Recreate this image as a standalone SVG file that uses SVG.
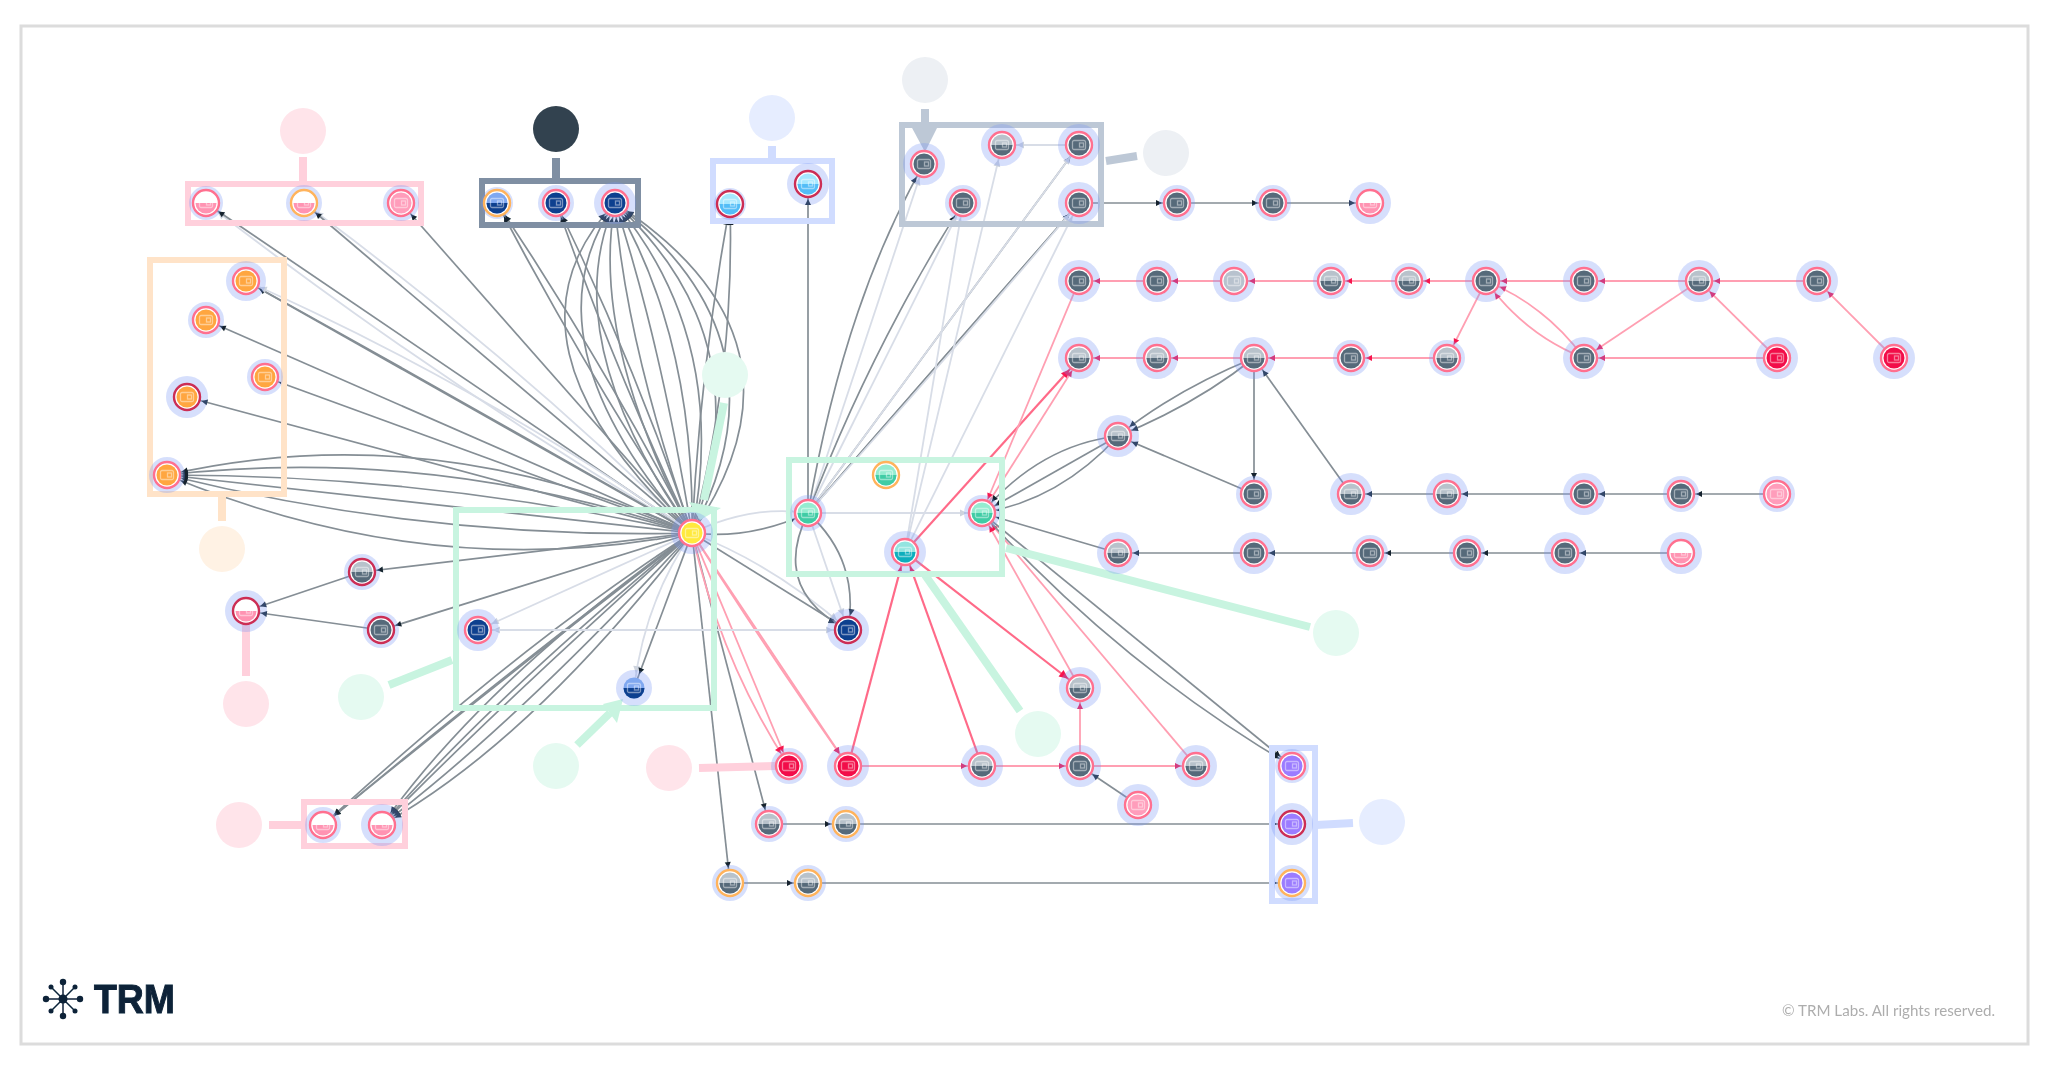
<svg xmlns="http://www.w3.org/2000/svg" width="2048" height="1072" viewBox="0 0 2048 1072">
<style>
.d{fill:none;stroke:#858e95;stroke-width:1.700;marker-end:url(#ad)}
.l{fill:none;stroke:#d8dde7;stroke-width:1.800;marker-end:url(#al)}
.p{fill:none;stroke:#ff9fb2;stroke-width:1.800;marker-end:url(#ap)}
.s{fill:none;stroke:#ff6a88;stroke-width:2.200;marker-end:url(#as)}
.h{fill:#7896f5;fill-opacity:.3}
.rp,.rd,.ro{fill:#fff;stroke-width:2.400}
.rp{stroke:#ff6f8f}.rd{stroke:#cc2f55}.ro{stroke:#ffb35c}
.w{fill:none;stroke:#fff;stroke-opacity:.45;stroke-width:1.300}
.b{fill:none;stroke-width:6}
.st{fill:none;stroke-width:8}
.fp{fill:#ffe4ea}.fk{fill:#33434f}.fb{fill:#e6edff}.fg{fill:#edf0f4}.fm{fill:#e5faf1}.fo{fill:#fff2e4}
.cp{stroke:#ffd0dc}.ck{stroke:#7f8fa3}.cb{stroke:#d0dcff}.cg{stroke:#bdc8d6}.cm{stroke:#c8f4e0}.co{stroke:#ffe3c8}
text{font-family:"Liberation Sans",Arial,sans-serif}
</style>
<defs>
<filter id="soft" x="0" y="0" width="100%" height="100%"><feGaussianBlur stdDeviation="0.55"/></filter>
<marker id="ad" markerUnits="userSpaceOnUse" markerWidth="36" markerHeight="16" viewBox="0 0 36 16" refX="32" refY="8" orient="auto"><path d="M11 5L17 8L11 11Z" fill="#14242f"/></marker>
<marker id="al" markerUnits="userSpaceOnUse" markerWidth="36" markerHeight="16" viewBox="0 0 36 16" refX="32" refY="8" orient="auto"><path d="M10 4.500L17 8L10 11.500Z" fill="#cdd3de"/></marker>
<marker id="ap" markerUnits="userSpaceOnUse" markerWidth="36" markerHeight="16" viewBox="0 0 36 16" refX="32" refY="8" orient="auto"><path d="M11 5L17 8L11 11Z" fill="#f7174f"/></marker>
<marker id="as" markerUnits="userSpaceOnUse" markerWidth="36" markerHeight="18" viewBox="0 0 36 18" refX="32" refY="9" orient="auto"><path d="M8 5L17 9L8 13Z" fill="#f7174f"/></marker>
<g id="wal"><rect class="w" x="-6.500" y="-4.500" width="13" height="9" rx="1.500"/><rect class="w" x="0.500" y="-2" width="4" height="4"/></g>
<g id="c-gray"><circle r="10.500" fill="#566a7a"/><use href="#wal"/></g>
<g id="c-grayhalf"><circle r="10.500" fill="#b8c2cb"/><path d="M-10.500 0A10.500 10.500 0 0 0 10.500 0Z" fill="#566a7a"/><use href="#wal"/></g>
<g id="c-graylight"><circle r="10.500" fill="#b8c2ce"/><use href="#wal"/></g>
<g id="c-pinkhalf"><circle r="10.500" fill="#fff"/><path d="M-10.500 0A10.500 10.500 0 0 0 10.500 0Z" fill="#ff93b2"/><use href="#wal"/></g>
<g id="c-pink"><circle r="10.500" fill="#ff9dbb"/><use href="#wal"/></g>
<g id="c-orange"><circle r="10.500" fill="#ffa63f"/><use href="#wal"/></g>
<g id="c-navy"><circle r="10.500" fill="#10408f"/><use href="#wal"/></g>
<g id="c-navyhalf"><circle r="10.500" fill="#80a8f0"/><path d="M-10.500 0A10.500 10.500 0 0 0 10.500 0Z" fill="#10408f"/><use href="#wal"/></g>
<g id="c-sky"><circle r="10.500" fill="#a6e8ff"/><path d="M-10.500 0A10.500 10.500 0 0 0 10.500 0Z" fill="#52bdf7"/><use href="#wal"/></g>
<g id="c-teal"><circle r="10.500" fill="#95ecd0"/><path d="M-10.500 0A10.500 10.500 0 0 0 10.500 0Z" fill="#40cca5"/><use href="#wal"/></g>
<g id="c-aqua"><circle r="10.500" fill="#93e4e0"/><path d="M-10.500 0A10.500 10.500 0 0 0 10.500 0Z" fill="#10aebd"/><use href="#wal"/></g>
<g id="c-yellow"><circle r="10.500" fill="#ffe93d"/><use href="#wal"/></g>
<g id="c-red"><circle r="10.500" fill="#f20f48"/><use href="#wal"/></g>
<g id="c-purple"><circle r="10.500" fill="#9b7cff"/><use href="#wal"/></g>
</defs>
<rect width="2048" height="1072" fill="#fff"/>
<rect x="21" y="26" width="2007" height="1018" fill="#fff" stroke="#dcdcdc" stroke-width="3"/>
<g filter="url(#soft)">
<g id="connectors">
<path class="l" d="M692 533Q439 383 206 203"/><path class="d" d="M692 533L206 203"/>
<path class="l" d="M692 533Q510 355 304 203"/><path class="d" d="M692 533L304 203"/>
<path class="d" d="M692 533L401 203"/>
<path class="d" d="M692 533Q585 370 497 203"/><path class="d" d="M692 533Q605 365 497 203"/>
<path class="d" d="M692 533Q615 370 556 203"/><path class="d" d="M692 533Q635 365 556 203"/>
<path class="d" d="M692 533Q485 340 615 203"/><path class="d" d="M692 533Q520 340 615 203"/><path class="d" d="M692 533Q555 340 615 203"/><path class="d" d="M692 533Q590 340 615 203"/><path class="d" d="M692 533Q625 340 615 203"/><path class="d" d="M692 533Q660 340 615 203"/><path class="d" d="M692 533Q695 340 615 203"/><path class="d" d="M692 533Q730 340 615 203"/><path class="d" d="M692 533Q765 340 615 203"/><path class="d" d="M692 533Q795 340 615 203"/><path class="d" d="M692 533Q825 340 615 203"/>
<path class="d" d="M692 533Q700 370 730 204"/><path class="d" d="M692 533Q735 370 730 204"/>
<path class="d" d="M692 533L246 281"/><path class="d" d="M692 533Q470 405 246 281"/><path class="l" d="M692 533Q480 385 246 281"/>
<path class="d" d="M692 533L206 320"/><path class="d" d="M692 533L265 377"/><path class="d" d="M692 533L187 397"/>
<path class="d" d="M692 533Q430 415 167 475"/><path class="d" d="M692 533Q430 445 167 475"/><path class="d" d="M692 533Q430 475 167 475"/><path class="d" d="M692 533Q430 505 167 475"/><path class="d" d="M692 533Q430 540 167 475"/><path class="d" d="M692 533Q430 585 167 475"/>
<path class="d" d="M692 533L362 572"/><path class="d" d="M692 533L381 630"/><path class="l" d="M692 533L478 630"/>
<path class="l" d="M692 533Q645 600 634 688"/><path class="d" d="M692 533L634 688"/>
<path class="d" d="M692 533Q525 640 323 825"/><path class="d" d="M692 533Q515 665 323 825"/><path class="d" d="M692 533Q500 680 323 825"/>
<path class="d" d="M692 533Q533 740 382 825"/><path class="d" d="M692 533Q520 720 382 825"/><path class="d" d="M692 533Q505 700 382 825"/><path class="d" d="M692 533Q490 700 382 825"/><path class="d" d="M692 533Q485 680 382 825"/>
<path class="d" d="M692 533L769 824"/><path class="d" d="M692 533L730 883"/>
<path class="p" d="M692 533Q720 660 789 766"/><path class="p" d="M692 533L789 766"/><path class="p" d="M692 533L848 766"/><path class="p" d="M692 533Q770 655 848 766"/>
<path class="l" d="M692 533Q750 505 808 513"/><path class="d" d="M692 533Q750 540 808 513"/>
<path class="d" d="M692 533L848 630"/><path class="l" d="M692 533Q775 565 848 630"/>
<path class="d" d="M808 513Q770 590 848 630"/><path class="l" d="M808 513L848 630"/><path class="d" d="M808 513Q860 560 848 630"/>
<path class="l" d="M848 630L478 630"/><path class="l" d="M478 630L848 630"/>
<path class="l" d="M808 513L982 513"/>
<path class="d" d="M808 513L808 184"/>
<path class="d" d="M808 513Q845 300 924 164"/><path class="l" d="M808 513L924 164"/>
<path class="d" d="M808 513Q870 350 963 203"/><path class="l" d="M808 513L963 203"/>
<path class="d" d="M808 513L1079 145"/><path class="l" d="M808 513L1079 145"/>
<path class="d" d="M808 513Q920 385 1079 203"/><path class="d" d="M808 513L1079 203"/><path class="l" d="M808 513Q950 355 1079 203"/>
<path class="l" d="M905 552L1002 145"/><path class="l" d="M905 552L963 203"/><path class="l" d="M905 552L1079 203"/>
<path class="l" d="M1079 145L1002 145"/>
<path class="s" d="M905 552L1080 358"/><path class="p" d="M982 513L1080 358"/>
<path class="p" d="M1079 281L982 513"/>
<path class="s" d="M848 766L905 552"/><path class="s" d="M982 766L905 552"/><path class="s" d="M905 552L1080 688"/>
<path class="p" d="M1080 688L982 513"/><path class="p" d="M1196 766L982 513"/>
<path class="p" d="M1080 766L1080 688"/>
<path class="p" d="M848 766L982 766"/><path class="p" d="M982 766L1080 766"/><path class="p" d="M1080 766L1196 766"/>
<path class="d" d="M1138 805L1080 766"/>
<path class="d" d="M1118 436Q1040 445 982 513"/><path class="d" d="M1118 436L982 513"/><path class="d" d="M1118 436Q1060 500 982 513"/>
<path class="d" d="M1118 553L982 513"/>
<path class="d" d="M982 513L1292 766"/><path class="d" d="M982 513Q1120 665 1292 766"/>
<path class="d" d="M1254 358Q1175 390 1118 436"/><path class="d" d="M1254 358Q1195 405 1118 436"/>
<path class="d" d="M1254 494L1118 436"/><path class="d" d="M1254 358L1254 494"/><path class="d" d="M1351 494L1254 358"/>
<path class="d" d="M1079 203L1177 203"/><path class="d" d="M1177 203L1273 203"/><path class="d" d="M1273 203L1370 203"/>
<path class="p" d="M1157 281L1079 281"/><path class="p" d="M1234 281L1157 281"/><path class="p" d="M1331 281L1234 281"/><path class="p" d="M1409 281L1331 281"/><path class="p" d="M1486 281L1409 281"/><path class="p" d="M1584 281L1486 281"/><path class="p" d="M1699 281L1584 281"/><path class="p" d="M1817 281L1699 281"/>
<path class="p" d="M1157 358L1079 358"/><path class="p" d="M1254 358L1157 358"/><path class="p" d="M1351 358L1254 358"/><path class="p" d="M1447 358L1351 358"/>
<path class="p" d="M1486 281L1447 358"/><path class="p" d="M1584 358Q1525 335 1486 281"/><path class="p" d="M1584 358Q1545 305 1486 281"/>
<path class="p" d="M1699 281L1584 358"/><path class="p" d="M1777 358L1584 358"/><path class="p" d="M1777 358L1699 281"/><path class="p" d="M1894 358L1817 281"/>
<path class="d" d="M1447 494L1351 494"/><path class="d" d="M1584 494L1447 494"/><path class="d" d="M1681 494L1584 494"/><path class="d" d="M1777 494L1681 494"/>
<path class="d" d="M1254 553L1118 553"/><path class="d" d="M1370 553L1254 553"/><path class="d" d="M1467 553L1370 553"/><path class="d" d="M1565 553L1467 553"/><path class="d" d="M1681 553L1565 553"/>
<path class="d" d="M362 572L246 611"/><path class="d" d="M381 630L246 611"/>
<path class="d" d="M769 824L846 824"/><path class="d" d="M846 824L1292 824"/>
<path class="d" d="M730 883L808 883"/><path class="d" d="M808 883L1292 883"/>
</g>
<g id="groups">
<g id="g-pink-top"><path class="st cp" d="M303 157V182"/><rect class="b cp" x="188" y="184" width="233" height="39"/><circle class="fp" cx="303" cy="131" r="23"/></g>
<g id="g-dark"><path class="st ck" d="M556 158V178"/><rect class="b ck" x="482" y="181" width="156" height="44"/><circle class="fk" cx="556" cy="129" r="23"/></g>
<g id="g-blue"><path class="st cb" d="M772 146V160"/><rect class="b cb" x="713" y="161" width="119" height="60"/><circle class="fb" cx="772" cy="118" r="23"/></g>
<g id="g-gray"><path class="st cg" d="M925 109V130"/><path d="M911 126H938L925 152Z" fill="#bdc8d6"/><path class="st cg" d="M1106 161L1137 156"/><rect class="b cg" x="902" y="125" width="199" height="99"/><circle class="fg" cx="925" cy="80" r="23"/><circle class="fg" cx="1166" cy="153" r="23"/></g>
<g id="g-orange"><path class="st co" d="M222 497V521"/><rect class="b co" x="150" y="260" width="134" height="234"/><circle class="fo" cx="222" cy="549" r="23"/></g>
<g id="g-green-left"><path class="st cm" d="M389 685L452 660"/><rect class="b cm" x="456" y="510" width="258" height="198"/><circle class="fm" cx="361" cy="697" r="23"/></g>
<g id="g-green-mid"><path class="st cm" d="M724 403L704 500"/><path d="M689 502L721 508L700 520Z" fill="#c8f4e0"/><circle class="fm" cx="725" cy="375" r="23"/></g>
<g id="g-green-arrow"><path class="st cm" d="M577 745L610 713"/><path d="M623 699L617 723L603 704Z" fill="#c8f4e0"/><circle class="fm" cx="556" cy="766" r="23"/></g>
<g id="g-green-right"><path class="st cm" d="M925 575L1020 711"/><path class="st cm" d="M1006 548L1310 627"/><rect class="b cm" x="789" y="460" width="213" height="114"/><circle class="fm" cx="1038" cy="734" r="23"/><circle class="fm" cx="1336" cy="633" r="23"/></g>
<g id="g-pink-left"><path class="st cp" d="M246 625V676"/><circle class="fp" cx="246" cy="704" r="23"/></g>
<g id="g-pink-mid"><path class="st cp" d="M699 768L775 766"/><circle class="fp" cx="669" cy="768" r="23"/></g>
<g id="g-pink-bottom"><path class="st cp" d="M269 825H301"/><rect class="b cp" x="304" y="802" width="101" height="44"/><circle class="fp" cx="239" cy="825" r="23"/></g>
<g id="g-purple"><path class="st cb" d="M1316 825L1353 823"/><rect class="b cb" x="1272" y="748" width="43" height="153"/><circle class="fb" cx="1382" cy="822" r="23"/></g>
</g>
<g id="nodes">
<g id="n1" transform="translate(206 203)"><circle class="h" r="17"/><circle class="rp" r="13"/><use href="#c-pinkhalf"/></g>
<g id="n2" transform="translate(304 203)"><circle class="h" r="18"/><circle class="ro" r="13"/><use href="#c-pinkhalf"/></g>
<g id="n3" transform="translate(401 203)"><circle class="h" r="18"/><circle class="rp" r="13"/><use href="#c-pink"/></g>
<g id="n4" transform="translate(497 203)"><circle class="h" r="16"/><circle class="ro" r="13"/><use href="#c-navyhalf"/></g>
<g id="n5" transform="translate(556 203)"><circle class="h" r="18"/><circle class="rp" r="13"/><use href="#c-navy"/></g>
<g id="n6" transform="translate(615 203)"><circle class="h" r="21"/><circle class="rp" r="13"/><use href="#c-navy"/></g>
<g id="n7" transform="translate(730 204)"><circle class="h" r="16"/><circle class="rd" r="13"/><use href="#c-sky"/></g>
<g id="n8" transform="translate(808 184)"><circle class="h" r="21"/><circle class="rd" r="13"/><use href="#c-sky"/></g>
<g id="n9" transform="translate(924 164)"><circle class="h" r="21"/><circle class="rp" r="13"/><use href="#c-gray"/></g>
<g id="n10" transform="translate(1002 145)"><circle class="h" r="21"/><circle class="rp" r="13"/><use href="#c-grayhalf"/></g>
<g id="n11" transform="translate(1079 145)"><circle class="h" r="21"/><circle class="rp" r="13"/><use href="#c-gray"/></g>
<g id="n12" transform="translate(963 203)"><circle class="h" r="18"/><circle class="rp" r="13"/><use href="#c-gray"/></g>
<g id="n13" transform="translate(1079 203)"><circle class="h" r="21"/><circle class="rp" r="13"/><use href="#c-gray"/></g>
<g id="n14" transform="translate(1177 203)"><circle class="h" r="18"/><circle class="rp" r="13"/><use href="#c-gray"/></g>
<g id="n15" transform="translate(1273 203)"><circle class="h" r="18"/><circle class="rp" r="13"/><use href="#c-gray"/></g>
<g id="n16" transform="translate(1370 203)"><circle class="h" r="21"/><circle class="rp" r="13"/><use href="#c-pinkhalf"/></g>
<g id="n17" transform="translate(1079 281)"><circle class="h" r="21"/><circle class="rp" r="13"/><use href="#c-gray"/></g>
<g id="n18" transform="translate(1157 281)"><circle class="h" r="21"/><circle class="rp" r="13"/><use href="#c-gray"/></g>
<g id="n19" transform="translate(1234 281)"><circle class="h" r="21"/><circle class="rp" r="13"/><use href="#c-graylight"/></g>
<g id="n20" transform="translate(1331 281)"><circle class="h" r="18"/><circle class="rp" r="13"/><use href="#c-grayhalf"/></g>
<g id="n21" transform="translate(1409 281)"><circle class="h" r="18"/><circle class="rp" r="13"/><use href="#c-grayhalf"/></g>
<g id="n22" transform="translate(1486 281)"><circle class="h" r="21"/><circle class="rp" r="13"/><use href="#c-gray"/></g>
<g id="n23" transform="translate(1584 281)"><circle class="h" r="21"/><circle class="rp" r="13"/><use href="#c-gray"/></g>
<g id="n24" transform="translate(1699 281)"><circle class="h" r="21"/><circle class="rp" r="13"/><use href="#c-grayhalf"/></g>
<g id="n25" transform="translate(1817 281)"><circle class="h" r="21"/><circle class="rp" r="13"/><use href="#c-gray"/></g>
<g id="n26" transform="translate(1079 358)"><circle class="h" r="21"/><circle class="rp" r="13"/><use href="#c-grayhalf"/></g>
<g id="n27" transform="translate(1157 358)"><circle class="h" r="21"/><circle class="rp" r="13"/><use href="#c-grayhalf"/></g>
<g id="n28" transform="translate(1254 358)"><circle class="h" r="21"/><circle class="rp" r="13"/><use href="#c-grayhalf"/></g>
<g id="n29" transform="translate(1351 358)"><circle class="h" r="18"/><circle class="rp" r="13"/><use href="#c-gray"/></g>
<g id="n30" transform="translate(1447 358)"><circle class="h" r="18"/><circle class="rp" r="13"/><use href="#c-grayhalf"/></g>
<g id="n31" transform="translate(1584 358)"><circle class="h" r="21"/><circle class="rp" r="13"/><use href="#c-gray"/></g>
<g id="n32" transform="translate(1777 358)"><circle class="h" r="21"/><circle class="rp" r="13"/><use href="#c-red"/></g>
<g id="n33" transform="translate(1894 358)"><circle class="h" r="21"/><circle class="rp" r="13"/><use href="#c-red"/></g>
<g id="n34" transform="translate(1118 436)"><circle class="h" r="21"/><circle class="rp" r="13"/><use href="#c-grayhalf"/></g>
<g id="n35" transform="translate(1254 494)"><circle class="h" r="18"/><circle class="rp" r="13"/><use href="#c-gray"/></g>
<g id="n36" transform="translate(1351 494)"><circle class="h" r="21"/><circle class="rp" r="13"/><use href="#c-grayhalf"/></g>
<g id="n37" transform="translate(1447 494)"><circle class="h" r="21"/><circle class="rp" r="13"/><use href="#c-grayhalf"/></g>
<g id="n38" transform="translate(1584 494)"><circle class="h" r="21"/><circle class="rp" r="13"/><use href="#c-gray"/></g>
<g id="n39" transform="translate(1681 494)"><circle class="h" r="18"/><circle class="rp" r="13"/><use href="#c-gray"/></g>
<g id="n40" transform="translate(1777 494)"><circle class="h" r="18"/><circle class="rp" r="13"/><use href="#c-pink"/></g>
<g id="n41" transform="translate(1118 553)"><circle class="h" r="21"/><circle class="rp" r="13"/><use href="#c-grayhalf"/></g>
<g id="n42" transform="translate(1254 553)"><circle class="h" r="21"/><circle class="rp" r="13"/><use href="#c-gray"/></g>
<g id="n43" transform="translate(1370 553)"><circle class="h" r="18"/><circle class="rp" r="13"/><use href="#c-gray"/></g>
<g id="n44" transform="translate(1467 553)"><circle class="h" r="18"/><circle class="rp" r="13"/><use href="#c-gray"/></g>
<g id="n45" transform="translate(1565 553)"><circle class="h" r="21"/><circle class="rp" r="13"/><use href="#c-gray"/></g>
<g id="n46" transform="translate(1681 553)"><circle class="h" r="21"/><circle class="rp" r="13"/><use href="#c-pinkhalf"/></g>
<g id="n47" transform="translate(808 513)"><circle class="h" r="18"/><circle class="rp" r="13"/><use href="#c-teal"/></g>
<g id="n48" transform="translate(886 475)"><circle class="ro" r="13"/><use href="#c-teal"/></g>
<g id="n49" transform="translate(982 513)"><circle class="h" r="18"/><circle class="rp" r="13"/><use href="#c-teal"/></g>
<g id="n50" transform="translate(905 552)"><circle class="h" r="21"/><circle class="rp" r="13"/><use href="#c-aqua"/></g>
<g id="n51" transform="translate(692 533)"><circle class="h" r="21"/><circle class="rp" r="13"/><use href="#c-yellow"/></g>
<g id="n52" transform="translate(246 281)"><circle class="h" r="20"/><circle class="rp" r="13"/><use href="#c-orange"/></g>
<g id="n53" transform="translate(206 320)"><circle class="h" r="18"/><circle class="rp" r="13"/><use href="#c-orange"/></g>
<g id="n54" transform="translate(265 377)"><circle class="h" r="18"/><circle class="rp" r="13"/><use href="#c-orange"/></g>
<g id="n55" transform="translate(187 397)"><circle class="h" r="21"/><circle class="rd" r="13"/><use href="#c-orange"/></g>
<g id="n56" transform="translate(167 475)"><circle class="h" r="18"/><circle class="rp" r="13"/><use href="#c-orange"/></g>
<g id="n57" transform="translate(362 572)"><circle class="h" r="18"/><circle class="rd" r="13"/><use href="#c-grayhalf"/></g>
<g id="n58" transform="translate(246 611)"><circle class="h" r="21"/><circle class="rd" r="13"/><use href="#c-pinkhalf"/></g>
<g id="n59" transform="translate(381 630)"><circle class="h" r="18"/><circle class="rd" r="13"/><use href="#c-gray"/></g>
<g id="n60" transform="translate(478 630)"><circle class="h" r="21"/><circle class="rp" r="13"/><use href="#c-navy"/></g>
<g id="n61" transform="translate(848 630)"><circle class="h" r="21"/><circle class="rd" r="13"/><use href="#c-navy"/></g>
<g id="n62" transform="translate(634 688)"><circle class="h" r="18"/><use href="#c-navyhalf"/></g>
<g id="n63" transform="translate(1080 688)"><circle class="h" r="21"/><circle class="rp" r="13"/><use href="#c-grayhalf"/></g>
<g id="n64" transform="translate(789 766)"><circle class="h" r="18"/><circle class="rp" r="13"/><use href="#c-red"/></g>
<g id="n65" transform="translate(848 766)"><circle class="h" r="21"/><circle class="rp" r="13"/><use href="#c-red"/></g>
<g id="n66" transform="translate(982 766)"><circle class="h" r="21"/><circle class="rp" r="13"/><use href="#c-grayhalf"/></g>
<g id="n67" transform="translate(1080 766)"><circle class="h" r="21"/><circle class="rp" r="13"/><use href="#c-gray"/></g>
<g id="n68" transform="translate(1196 766)"><circle class="h" r="21"/><circle class="rp" r="13"/><use href="#c-grayhalf"/></g>
<g id="n69" transform="translate(1292 766)"><circle class="h" r="17"/><circle class="rp" r="13"/><use href="#c-purple"/></g>
<g id="n70" transform="translate(1138 805)"><circle class="h" r="21"/><circle class="rp" r="13"/><use href="#c-pink"/></g>
<g id="n71" transform="translate(323 825)"><circle class="h" r="18"/><circle class="rp" r="13"/><use href="#c-pinkhalf"/></g>
<g id="n72" transform="translate(382 825)"><circle class="h" r="21"/><circle class="rp" r="13"/><use href="#c-pinkhalf"/></g>
<g id="n73" transform="translate(769 824)"><circle class="h" r="18"/><circle class="rp" r="13"/><use href="#c-grayhalf"/></g>
<g id="n74" transform="translate(846 824)"><circle class="h" r="18"/><circle class="ro" r="13"/><use href="#c-grayhalf"/></g>
<g id="n75" transform="translate(1292 824)"><circle class="h" r="21"/><circle class="rd" r="13"/><use href="#c-purple"/></g>
<g id="n76" transform="translate(730 883)"><circle class="h" r="18"/><circle class="ro" r="13"/><use href="#c-grayhalf"/></g>
<g id="n77" transform="translate(808 883)"><circle class="h" r="18"/><circle class="ro" r="13"/><use href="#c-grayhalf"/></g>
<g id="n78" transform="translate(1292 883)"><circle class="h" r="18"/><circle class="ro" r="13"/><use href="#c-purple"/></g>
</g>
<g id="logo">
<path d="M63 982V1016M46 999H80M51 987L75 1011M75 987L51 1011" stroke="#0b2238" stroke-width="1.500" fill="none"/>
<circle cx="63" cy="999" r="4.500" fill="#0b2238"/><circle cx="63" cy="982" r="3.200" fill="#0b2238"/><circle cx="63" cy="1016" r="3.200" fill="#0b2238"/><circle cx="46" cy="999" r="3.200" fill="#0b2238"/><circle cx="80" cy="999" r="3.200" fill="#0b2238"/><circle cx="51" cy="987" r="2.500" fill="#0b2238"/><circle cx="75" cy="987" r="2.500" fill="#0b2238"/><circle cx="51" cy="1011" r="2.500" fill="#0b2238"/><circle cx="75" cy="1011" r="2.500" fill="#0b2238"/>
<text x="94" y="1013" font-size="40" font-weight="700" fill="#0b2238" stroke="#0b2238" stroke-width="1" textLength="81" lengthAdjust="spacingAndGlyphs">TRM</text>
</g>
<text x="1782" y="1016" font-size="15" fill="#adadad" textLength="213" lengthAdjust="spacingAndGlyphs" style="font-family:Lato,'Liberation Sans',sans-serif">© TRM Labs. All rights reserved.</text>
</g>
</svg>
